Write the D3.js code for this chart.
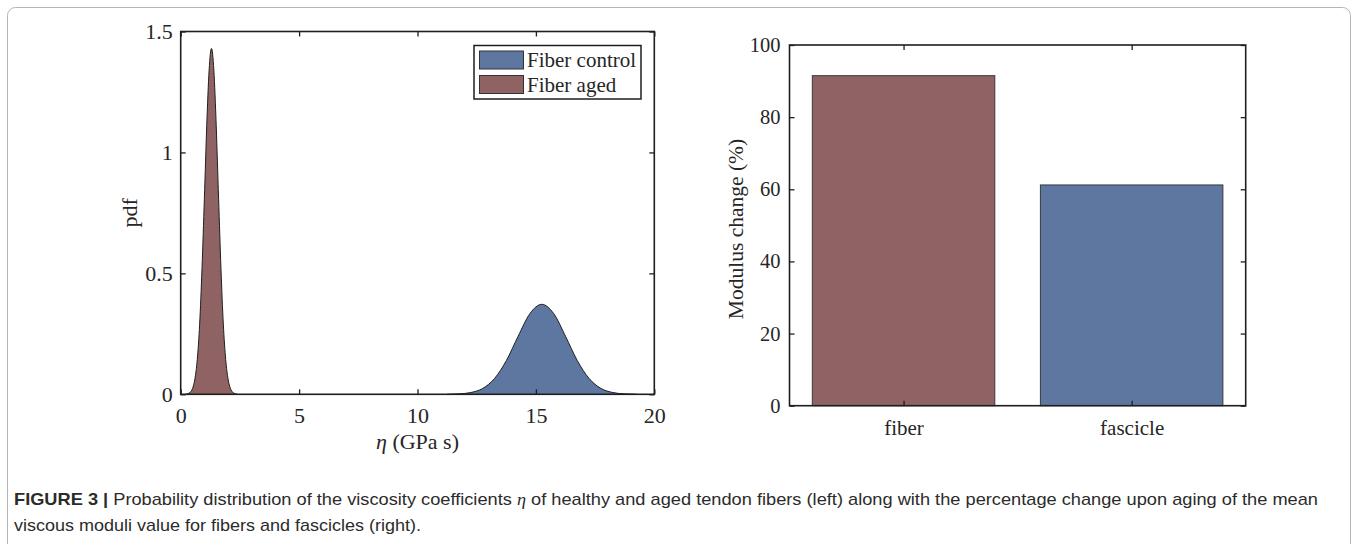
<!DOCTYPE html>
<html>
<head>
<meta charset="utf-8">
<script src="https://cdn.jsdelivr.net/npm/d3@7"></script>
<style>
  html, body { margin: 0; padding: 0; background: #fff; }
  svg { display: block; }
  .serif { font-family: "Liberation Serif", "Times New Roman", serif; fill: #262626; }
</style>
</head>
<body>
<svg id="chart" width="1358" height="544"></svg>
<script>
// ---------------- DATA ----------------
const seriesNames = ["Fiber control", "Fiber aged"];
const seriesColors = ["#5e77a0", "#8f6263"];

// Fiber control pdf
const controlEta = [11.25, 11.75, 12.25, 12.75, 13.25, 13.75, 14.25, 14.75, 15.25, 15.75, 16.25, 16.75, 17.25, 17.75, 18.25, 18.75, 19.25];
const controlPdf = [0.0003, 0.0018, 0.0073, 0.024, 0.065, 0.139, 0.240, 0.334, 0.372, 0.334, 0.240, 0.139, 0.065, 0.024, 0.0073, 0.0018, 0.0003];

// Fiber aged pdf
const agedEta = [0.2, 0.3, 0.4, 0.5, 0.6, 0.7, 0.8, 0.9, 1.0, 1.1, 1.2, 1.3, 1.4, 1.5, 1.6, 1.7, 1.8, 1.9, 2.0, 2.1, 2.2, 2.3, 2.4];
const agedPdf = [0.0005, 0.0024, 0.008, 0.024, 0.063, 0.144, 0.29, 0.52, 0.81, 1.11, 1.34, 1.43, 1.34, 1.11, 0.81, 0.52, 0.29, 0.144, 0.063, 0.024, 0.008, 0.0024, 0.0005];

const categories = ["fiber", "fascicle"];
const modulusChange = [91.5, 61.2];
const barColors = ["#8f6263", "#5e77a0"];

const etaTicks = [0, 5, 10, 15, 20];
const pdfTicks = [0, 0.5, 1, 1.5];
const modTicks = [0, 20, 40, 60, 80, 100];

const captionBold = "FIGURE 3 |";
const captionLine1 = " Probability distribution of the viscosity coefficients ";
const captionEta = "η";
const captionLine1b = " of healthy and aged tendon fibers (left) along with the percentage change upon aging of the mean";
const captionLine2 = "viscous moduli value for fibers and fascicles (right).";

// ---------------- DRAW ----------------
const svg = d3.select("#chart");

// outer border
svg.append("rect")
  .attr("x", 7.5).attr("y", 7.5).attr("width", 1343).attr("height", 560)
  .attr("rx", 8).attr("fill", "none").attr("stroke", "#b5b5b5").attr("stroke-width", 1);

// ---- Left panel ----
const L = { left: 180.7, right: 654.3, top: 31.5, bottom: 394.3 };
const x1 = d3.scaleLinear().domain([0, 20]).range([L.left, L.right]);
const y1 = d3.scaleLinear().domain([0, 1.5]).range([L.bottom, L.top]);
const gL = svg.append("g");

const series = [
  { name: seriesNames[0], color: seriesColors[0], pts: controlEta.map((e, i) => [e, controlPdf[i]]) },
  { name: seriesNames[1], color: seriesColors[1], pts: agedEta.map((e, i) => [e, agedPdf[i]]) }
];
const area = d3.area().x(d => x1(d[0])).y0(y1(0)).y1(d => y1(d[1])).curve(d3.curveMonotoneX);
const line = d3.line().x(d => x1(d[0])).y(d => y1(d[1])).curve(d3.curveMonotoneX);
series.forEach(s => {
  gL.append("path").attr("d", area(s.pts)).attr("fill", s.color).attr("stroke", "none");
  gL.append("path").attr("d", line(s.pts)).attr("fill", "none").attr("stroke", "#1e1e1e").attr("stroke-width", 1);
});

function styleAxis(g, size) {
  g.select(".domain").remove();
  g.selectAll(".tick line").attr("stroke", "#1e1e1e").attr("stroke-width", 1.3);
  g.selectAll(".tick text").attr("class", "serif").style("font-size", size + "px").attr("fill", "#262626");
}
gL.append("g").attr("transform", `translate(0,${L.bottom})`)
  .call(d3.axisBottom(x1).tickValues(etaTicks).tickSize(-5).tickPadding(13).tickFormat(d3.format("d")))
  .call(g => styleAxis(g, 22));
gL.append("g").attr("transform", `translate(0,${L.top})`)
  .call(d3.axisTop(x1).tickValues(etaTicks).tickSize(-5).tickFormat(""))
  .call(g => styleAxis(g, 22));
gL.append("g").attr("transform", `translate(${L.left},0)`)
  .call(d3.axisLeft(y1).tickValues(pdfTicks).tickSize(-5).tickPadding(8).tickFormat(d => String(d)))
  .call(g => styleAxis(g, 22));
gL.append("g").attr("transform", `translate(${L.right},0)`)
  .call(d3.axisRight(y1).tickValues(pdfTicks).tickSize(-5).tickFormat(""))
  .call(g => styleAxis(g, 22));
gL.append("rect").attr("x", L.left).attr("y", L.top).attr("width", L.right - L.left).attr("height", L.bottom - L.top)
  .attr("fill", "none").attr("stroke", "#1e1e1e").attr("stroke-width", 1.6);

// axis labels
const xl = gL.append("text").attr("class", "serif").attr("x", (L.left + L.right) / 2).attr("y", 449)
  .attr("text-anchor", "middle").style("font-size", "22px");
xl.append("tspan").style("font-style", "italic").text("η");
xl.append("tspan").text(" (GPa s)");
gL.append("text").attr("class", "serif").attr("transform", `translate(137,${(L.top + L.bottom) / 2}) rotate(-90)`)
  .attr("text-anchor", "middle").style("font-size", "22px").text("pdf");

// legend
const lg = gL.append("g");
lg.append("rect").attr("x", 474).attr("y", 45.5).attr("width", 167).attr("height", 53.5)
  .attr("fill", "#fff").attr("stroke", "#1e1e1e").attr("stroke-width", 1.5);
series.forEach((s, i) => {
  lg.append("rect").attr("x", 479.5).attr("y", 51 + i * 24.5).attr("width", 44).attr("height", 18)
    .attr("fill", s.color).attr("stroke", "#333").attr("stroke-width", 1);
  lg.append("text").attr("class", "serif").attr("x", 527).attr("y", 67 + i * 24.5)
    .style("font-size", "21px").text(s.name);
});

// ---- Right panel ----
const R = { left: 789.5, right: 1245.7, top: 45, bottom: 405.7 };
const x2 = d3.scaleBand().domain(categories).range([R.left, R.right]).paddingInner(0.2).paddingOuter(0.1);
const y2 = d3.scaleLinear().domain([0, 100]).range([R.bottom, R.top]);
const gR = svg.append("g");
gR.selectAll("rect.bar").data(categories).enter().append("rect").attr("class", "bar")
  .attr("x", d => x2(d)).attr("width", x2.bandwidth())
  .attr("y", (d, i) => y2(modulusChange[i])).attr("height", (d, i) => y2(0) - y2(modulusChange[i]))
  .attr("fill", (d, i) => barColors[i]).attr("stroke", "#3a3a3a").attr("stroke-width", 1);

const catAxisScale = d3.scalePoint().domain(categories).range([x2(categories[0]) + x2.bandwidth() / 2, x2(categories[1]) + x2.bandwidth() / 2]);
gR.append("g").attr("transform", `translate(0,${R.bottom})`)
  .call(d3.axisBottom(catAxisScale).tickSize(-5).tickPadding(14))
  .call(g => styleAxis(g, 21));
gR.append("g").attr("transform", `translate(0,${R.top})`)
  .call(d3.axisTop(catAxisScale).tickSize(-5).tickFormat(""))
  .call(g => styleAxis(g, 21));
gR.append("g").attr("transform", `translate(${R.left},0)`)
  .call(d3.axisLeft(y2).tickValues(modTicks).tickSize(-5).tickPadding(9).tickFormat(d3.format("d")))
  .call(g => styleAxis(g, 20.5));
gR.append("g").attr("transform", `translate(${R.right},0)`)
  .call(d3.axisRight(y2).tickValues(modTicks).tickSize(-5).tickFormat(""))
  .call(g => styleAxis(g, 20));
gR.append("rect").attr("x", R.left).attr("y", R.top).attr("width", R.right - R.left).attr("height", R.bottom - R.top)
  .attr("fill", "none").attr("stroke", "#1e1e1e").attr("stroke-width", 1.6);
gR.append("text").attr("class", "serif").attr("transform", `translate(743,229) rotate(-90)`)
  .attr("text-anchor", "middle").style("font-size", "21.5px").text("Modulus change (%)");

// ---- Caption ----
const cap = svg.append("g").style("font-family", "'Liberation Sans', Arial, sans-serif").style("font-size", "17px").attr("fill", "#2b2b2b");
const t1 = cap.append("text").attr("x", 14).attr("y", 505).attr("textLength", 1304).attr("lengthAdjust", "spacingAndGlyphs");
t1.append("tspan").style("font-weight", "bold").text(captionBold);
t1.append("tspan").text(captionLine1);
t1.append("tspan").style("font-family", "'Liberation Serif', serif").style("font-style", "italic").text(captionEta);
t1.append("tspan").text(captionLine1b);
cap.append("text").attr("x", 14).attr("y", 531).attr("textLength", 407).attr("lengthAdjust", "spacingAndGlyphs").text(captionLine2);
</script>
</body>
</html>
